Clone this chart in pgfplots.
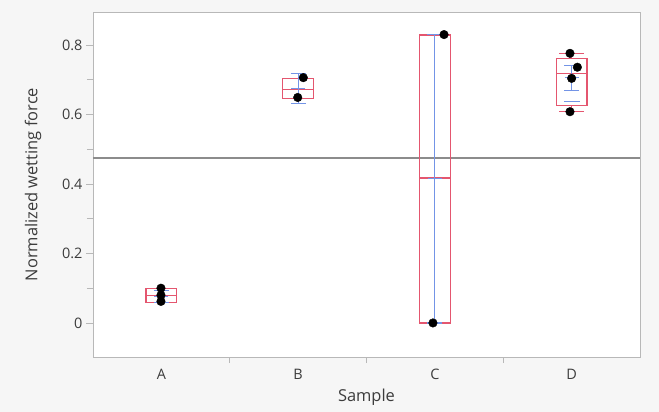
\documentclass[border=0pt]{standalone}
\usepackage{fontspec}
\setmainfont{Open Sans}
\usepackage{pgfplots}
\pgfplotsset{compat=1.18}
\usepgfplotslibrary{statistics}

\definecolor{boxred}{HTML}{E4566F}
\definecolor{meanblue}{HTML}{7394E6}
\definecolor{bggray}{HTML}{F6F6F6}
\definecolor{framegray}{HTML}{B8B8B8}
\definecolor{refgray}{HTML}{8C8C8C}
\definecolor{txt}{HTML}{3C3C3C}

\begin{document}
\begin{tikzpicture}
% panel background
\fill[bggray] (-93bp,-55bp) rectangle (566bp,357bp);
\begin{axis}[
  at={(0,0)}, anchor=south west,
  scale only axis, width=547bp, height=345bp,
  xmin=-0.5, xmax=3.5, ymin=-0.098, ymax=0.895,
  axis background/.style={fill=white},
  axis line style={framegray, line width=0.9bp},
  xtick={0,1,2,3}, xticklabels={A,B,C,D},
  minor xtick={0.5,1.5,2.5},
  ytick={0,0.2,0.4,0.6,0.8},
  minor ytick={0.1,0.3,0.5,0.7},
  yticklabels={0,0.2,0.4,0.6,0.8},
  xtick pos=bottom, ytick pos=left,
  tick align=outside,
  x tick style={draw=none},
  minor x tick style={draw=framegray, line width=0.9bp},
  minor tick length=6bp,
  y tick style={draw=framegray, line width=0.9bp},
  major tick length=7bp,
  tick label style={font=\fontsize{14.5}{16}\selectfont, text=txt},
  xticklabel style={yshift=-2bp},
  xlabel={Sample},
  ylabel={Normalized wetting force},
  every axis x label/.style={at={(axis description cs:0.5,0)}, anchor=center,
    yshift=-40bp, font=\fontsize{16.5}{18}\selectfont, text=txt},
  every axis y label/.style={at={([xshift=-60bp]axis description cs:0,0.5)}, anchor=center,
    rotate=90, font=\fontsize{16.5}{18}\selectfont, text=txt},
  boxplot/draw direction=y,
  boxplot/every box/.style={draw=boxred, line width=1.2bp},
  boxplot/every whisker/.style={draw=boxred, line width=1.2bp},
  boxplot/every median/.style={draw=boxred, line width=1.2bp},
  clip=false,
]
% grand mean
\addplot[refgray, line width=1.2bp] coordinates {(-0.5,0.475) (3.5,0.475)};

% box plots
\pgfplotsset{boxstyle/.style={color=boxred, line width=1.2bp}}
\addplot[boxstyle, boxplot prepared={
  lower whisker=0.060, lower quartile=0.060, median=0.080,
  upper quartile=0.100, upper whisker=0.100,
  draw position=0, box extend=0.226, whisker extend=0.18}] coordinates {};
\addplot[boxstyle, boxplot prepared={
  lower whisker=0.647, lower quartile=0.647, median=0.673,
  upper quartile=0.704, upper whisker=0.704,
  draw position=1, box extend=0.226, whisker extend=0.18}] coordinates {};
\addplot[boxstyle, boxplot prepared={
  lower whisker=0.000, lower quartile=0.000, median=0.417,
  upper quartile=0.829, upper whisker=0.829,
  draw position=2, box extend=0.226, whisker extend=0.18}] coordinates {};
\addplot[boxstyle, boxplot prepared={
  lower whisker=0.608, lower quartile=0.627, median=0.719,
  upper quartile=0.762, upper whisker=0.776,
  draw position=3, box extend=0.226, whisker extend=0.18}] coordinates {};

% means with standard-error bars
\addplot[meanblue, only marks, mark=-, mark size=7bp, mark options={line width=1.1bp},
  error bars/.cd, y dir=both, y explicit,
  error bar style={meanblue, line width=1.1bp},
  error mark options={meanblue, mark size=7.5bp, line width=1.1bp, rotate=90}]
  coordinates {
    (0,0.076)  +- (0,0.018)
    (1,0.6745) +- (0,0.0425)
    (2,0.415)  +- (0,0.415)
    (3,0.706)  +- (0,0.036)
  };
\addplot[meanblue, only marks, mark=-, mark size=8bp, mark options={line width=1.1bp}]
  coordinates {(3,0.637)};

% observations
\addplot[only marks, mark=*, mark size=4.3bp, black] coordinates {
  (-0.003,0.100) (-0.003,0.080) (-0.003,0.062)
  (1.038,0.706) (0.997,0.649)
  (2.067,0.830) (1.986,0.000)
  (2.988,0.776) (3.042,0.736) (3.000,0.704) (2.988,0.608)
};
\end{axis}
\end{tikzpicture}
\end{document}
